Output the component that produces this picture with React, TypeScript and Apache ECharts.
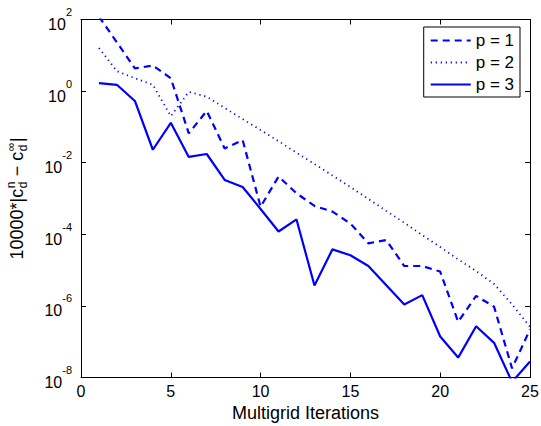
import React, { useEffect, useRef } from 'react';
import * as echarts from 'echarts';

const FONT = '"Liberation Sans", Arial, Helvetica, sans-serif';

const iterations = [1, 2, 3, 4, 5, 6, 7, 8, 9, 10, 11, 12, 13, 14, 15, 16, 17, 18, 19, 20, 21, 22, 23, 24, 25];

// p = 1 (dashed)
const p1Values = [
  120, 23, 4.3, 5.2, 2.3, 0.066, 0.28, 0.025, 0.043, 5.9e-4,
  4.1e-3, 1.4e-3, 6.2e-4, 4.3e-4, 2.0e-4, 5.6e-5, 6.9e-5, 1.3e-5, 1.3e-5, 9.1e-6,
  3.6e-7, 1.9e-6, 9.5e-7, 1.8e-8, 2.2e-7,
];

// p = 2 (dotted)
const p2Values = [
  16, 3.6, 2.3, 1.5, 0.2, 0.95, 0.7, 0.34, 0.166, 0.082,
  0.04, 0.019, 0.0092, 0.0044, 0.0021, 9.7e-4, 4.5e-4, 2.1e-4, 9.5e-5, 4.4e-5,
  2.0e-5, 9.4e-6, 4.1e-6, 1.1e-6, 2.6e-7,
];

// p = 3 (solid)
const p3Values = [
  1.66, 1.5, 0.53, 0.023, 0.13, 0.0145, 0.0175, 0.0033, 0.0021, 5.1e-4,
  1.2e-4, 2.6e-4, 3.7e-6, 3.8e-5, 2.6e-5, 1.3e-5, 3.8e-6, 1.1e-6, 2.0e-6, 1.4e-7,
  3.6e-8, 2.7e-7, 9.3e-8, 7.5e-9, 2.8e-8,
];

const seriesNames = ['p = 1', 'p = 2', 'p = 3'];
const xMin = 0;
const xMax = 25;
const xStep = 5;
const yExpMin = -8;
const yExpMax = 2;
const yExpStep = 2;
const xAxisTitle = 'Multigrid Iterations';
const yLabelParts = [
  { kind: 'main', text: '10000*|c' },
  { kind: 'script', sup: 'n', sub: 'd' },
  { kind: 'main', text: ' \u2212 c' },
  { kind: 'script', sup: '\u221e', sub: 'd' },
  { kind: 'main', text: '|' },
];

function measure(text: string, size: number): number {
  const ctx = document.createElement('canvas').getContext('2d');
  if (!ctx) return text.length * size * 0.55;
  ctx.font = `${size}px ${FONT}`;
  return ctx.measureText(text).width;
}

function toPoints(vals: number[]) {
  return iterations.map((x, i) => [x, Math.log10(vals[i])]);
}

export default function App() {
  const ref = useRef<HTMLDivElement>(null);

  useEffect(() => {
    const el = ref.current;
    if (!el) return;
    const chart = echarts.init(el, null, { renderer: 'svg' });

    // y-axis title with stacked sub/superscripts
    const mainSize = 18;
    const scriptSize = 12;
    let cursor = 0;
    const items: { text: string; x: number; y: number; size: number }[] = [];
    for (const p of yLabelParts as any[]) {
      if (p.kind === 'main') {
        items.push({ text: p.text, x: cursor, y: 0, size: mainSize });
        cursor += measure(p.text, mainSize);
      } else {
        cursor += 0.5;
        const w = Math.max(measure(p.sup, scriptSize), measure(p.sub, scriptSize));
        items.push({ text: p.sup, x: cursor, y: -6.4, size: scriptSize });
        items.push({ text: p.sub, x: cursor, y: 5.3, size: scriptSize });
        cursor += w + 0.5;
      }
    }
    const total = cursor;
    const children = items.map((it) => ({
      type: 'text',
      x: it.x - total / 2,
      y: it.y,
      style: {
        text: it.text,
        fontSize: it.size,
        fontFamily: FONT,
        fill: '#000',
        align: 'left',
        verticalAlign: 'middle',
      },
    }));

    const blue = '#0000ff';
    const axisCommon = {
      min: xMin,
      max: xMax,
      interval: xStep,
    };
    const yCommon = {
      min: yExpMin,
      max: yExpMax,
      interval: yExpStep,
    };

    const option: any = {
      animation: false,
      backgroundColor: '#fff',
      grid: {
        left: 81,
        right: 11,
        top: 19.5,
        bottom: 48.5,
        containLabel: false,
        outerBoundsMode: 'none',
      },
      xAxis: [
        {
          type: 'value',
          position: 'bottom',
          ...axisCommon,
          name: xAxisTitle,
          nameLocation: 'middle',
          nameGap: 21,
          nameTextStyle: { fontSize: 18, fontFamily: FONT, color: '#000' },
          axisLine: { show: true, onZero: false, lineStyle: { color: '#000', width: 1 } },
          axisTick: { show: true, inside: true, length: 5, lineStyle: { color: '#000' } },
          axisLabel: { show: true, margin: 6, fontSize: 16, fontFamily: FONT, color: '#000' },
          splitLine: { show: false },
        },
        {
          type: 'value',
          position: 'top',
          ...axisCommon,
          axisLine: { show: true, onZero: false, lineStyle: { color: '#000', width: 1 } },
          axisTick: { show: true, inside: true, length: 5, lineStyle: { color: '#000' } },
          axisLabel: { show: false },
          splitLine: { show: false },
        },
      ],
      yAxis: [
        {
          type: 'value',
          position: 'left',
          ...yCommon,
          axisLine: { show: true, onZero: false, lineStyle: { color: '#000', width: 1 } },
          axisTick: { show: true, inside: true, length: 5, lineStyle: { color: '#000' } },
          axisLabel: {
            show: true,
            margin: 9,
            formatter: (v: number) => `{b|10}{s|${v}}`,
            rich: {
              b: { fontSize: 16, fontFamily: FONT, color: '#000', lineHeight: 26, verticalAlign: 'bottom' },
              s: { fontSize: 11, fontFamily: FONT, color: '#000', lineHeight: 10, verticalAlign: 'top' },
            },
          },
          splitLine: { show: false },
        },
        {
          type: 'value',
          position: 'right',
          ...yCommon,
          axisLine: { show: true, onZero: false, lineStyle: { color: '#000', width: 1 } },
          axisTick: { show: true, inside: true, length: 5, lineStyle: { color: '#000' } },
          axisLabel: { show: false },
          splitLine: { show: false },
        },
      ],
      legend: {
        orient: 'vertical',
        right: 21,
        top: 27,
        data: seriesNames,
        itemWidth: 40,
        itemHeight: 14,
        itemGap: 5,
        padding: [5, 6, 4, 6],
        borderColor: '#000',
        borderWidth: 1,
        borderRadius: 0,
        backgroundColor: '#fff',
        selectedMode: false,
        itemStyle: { opacity: 0, borderWidth: 0 },
        textStyle: { fontSize: 17, fontFamily: FONT, color: '#000', lineHeight: 17 },
      },
      series: [
        {
          name: seriesNames[0],
          type: 'line',
          xAxisIndex: 0,
          yAxisIndex: 0,
          data: toPoints(p1Values),
          symbol: 'none',
          color: blue,
          lineStyle: { color: blue, width: 2.2, type: [7, 5] },
          clip: true,
        },
        {
          name: seriesNames[1],
          type: 'line',
          xAxisIndex: 0,
          yAxisIndex: 0,
          data: toPoints(p2Values),
          symbol: 'none',
          color: blue,
          lineStyle: { color: blue, width: 1.8, type: [1.2, 3.8] },
          clip: true,
        },
        {
          name: seriesNames[2],
          type: 'line',
          xAxisIndex: 0,
          yAxisIndex: 0,
          data: toPoints(p3Values),
          symbol: 'none',
          color: blue,
          lineStyle: { color: blue, width: 2.2, type: 'solid' },
          clip: true,
        },
      ],
      graphic: [
        {
          type: 'group',
          x: 17.2,
          y: 198.5,
          rotation: Math.PI / 2,
          children,
        },
      ],
    };

    chart.setOption(option);
    return () => chart.dispose();
  }, []);

  return (
    <div
      ref={ref}
      style={{ position: 'fixed', left: 0, top: 0, width: 541, height: 426, background: '#fff' }}
    />
  );
}
